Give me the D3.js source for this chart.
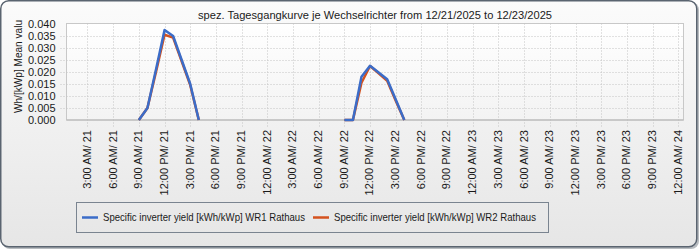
<!DOCTYPE html>
<html>
<head>
<meta charset="utf-8">
<script src="https://cdn.jsdelivr.net/npm/d3@7"></script>
<style>
  body { margin: 0; background: #fff; }
  text { font-family: "Liberation Sans", Arial, sans-serif; }
</style>
</head>
<body>
<svg id="chart" width="700" height="250"></svg>
<script>
// values (hourly, two days of production)
let times = [
    "2025-12-21 09:00", "2025-12-21 10:00", "2025-12-21 11:00", "2025-12-21 12:00",
    "2025-12-21 13:00", "2025-12-21 14:00", "2025-12-21 15:00", "2025-12-21 16:00",
    "2025-12-22 09:00", "2025-12-22 10:00", "2025-12-22 11:00", "2025-12-22 12:00",
    "2025-12-22 13:00", "2025-12-22 14:00", "2025-12-22 15:00", "2025-12-22 16:00"
]
let wr1 = [0, 0.005, 0.021, 0.0375, 0.035, 0.025, 0.015, 0,
           0, 0, 0.018, 0.0226, 0.0198, 0.017, 0.0085, 0]
let wr2 = [0, 0.005, 0.020, 0.0355, 0.0343, 0.0245, 0.0145, 0,
           0, 0, 0.0155, 0.0225, 0.0195, 0.0163, 0.008, 0]
let seriesNames = ["Specific inverter yield [kWh/kWp] WR1 Rathaus",
                   "Specific inverter yield [kWh/kWp] WR2 Rathaus"]
let yTicks = [0, 0.005, 0.010, 0.015, 0.020, 0.025, 0.030, 0.035, 0.040]
let xDomain = ["2025-12-21 00:00", "2025-12-24 00:00"]
let title = "spez. Tagesgangkurve je Wechselrichter from 12/21/2025 to 12/23/2025"
let yTitle = "Wh/[kWp] Mean valu"

let colors = ["#3b6cc8", "#d4521e"]

let parse = d3.timeParse("%Y-%m-%d %H:%M")
let svg = d3.select("#chart")

// panel background
let defs = svg.append("defs")
let grad = defs.append("linearGradient").attr("id", "bg").attr("x1", 0).attr("y1", 0).attr("x2", 0).attr("y2", 1)
grad.append("stop").attr("offset", "0%").attr("stop-color", "#fbfbfb")
grad.append("stop").attr("offset", "100%").attr("stop-color", "#e6e6e6")
let pgrad = defs.append("linearGradient").attr("id", "plotbg").attr("x1", 0).attr("y1", 0).attr("x2", 0).attr("y2", 1)
pgrad.append("stop").attr("offset", "0%").attr("stop-color", "#ffffff")
pgrad.append("stop").attr("offset", "100%").attr("stop-color", "#f3f3f3")

svg.append("rect").attr("x", 2).attr("y", 2).attr("width", 697).attr("height", 247)
    .attr("rx", 8).attr("fill", "#b8bcc0")
svg.append("rect").attr("x", 0.75).attr("y", 0.75).attr("width", 696).attr("height", 246)
    .attr("rx", 8).attr("fill", "url(#bg)").attr("stroke", "#5a6470").attr("stroke-width", 1.5)

// plot box
let plot = {left: 66.5, right: 683.5, top: 23.5, bottom: 120}

let x = d3.scaleTime().domain(xDomain.map(parse)).range([61.8, 678.3])
let y = d3.scaleLinear().domain([0, 0.04]).range([plot.bottom, plot.top + 0.5])

svg.append("rect").attr("x", plot.left).attr("y", plot.top)
    .attr("width", plot.right - plot.left).attr("height", plot.bottom - plot.top)
    .attr("fill", "url(#plotbg)").attr("stroke", "#c8c8c8")

let xTicks = d3.timeHour.every(3).range(parse("2025-12-21 03:00"), d3.timeMinute.offset(parse(xDomain[1]), 1))

// grid
svg.append("g").selectAll("line").data(xTicks).enter().append("line")
    .attr("x1", d => Math.round(x(d)) + 0.5).attr("x2", d => Math.round(x(d)) + 0.5)
    .attr("y1", plot.top).attr("y2", plot.bottom + 8)
    .attr("stroke", "#c4c4c4").attr("stroke-dasharray", "1,2")
svg.append("g").selectAll("line").data(yTicks.slice(1, -1)).enter().append("line")
    .attr("x1", plot.left - 6).attr("x2", plot.right)
    .attr("y1", d => Math.round(y(d)) + 0.5).attr("y2", d => Math.round(y(d)) + 0.5)
    .attr("stroke", "#c4c4c4").attr("stroke-dasharray", "1,2")
svg.append("line").attr("x1", plot.left).attr("x2", plot.right)
    .attr("y1", plot.bottom).attr("y2", plot.bottom).attr("stroke", "#b4b4b4")

// y axis labels
let yAxis = d3.axisLeft(y).tickValues(yTicks).tickSize(0).tickPadding(0).tickFormat(d3.format(".3f"))
let gy = svg.append("g").attr("transform", "translate(55.5,0)").call(yAxis)
gy.select(".domain").remove()
gy.selectAll("text").attr("font-family", "Liberation Sans, Arial, sans-serif")
    .attr("font-size", 11).attr("fill", "#1a1a1a")

// x axis labels, rotated
let fmt = d3.timeFormat("%-I:%M %p/ %d")
svg.append("g").selectAll("text").data(xTicks).enter().append("text")
    .attr("transform", d => "translate(" + (x(d) - 0.5) + ",130) rotate(-90)")
    .attr("text-anchor", "end").attr("dy", "0.35em")
    .attr("font-size", 11).attr("fill", "#1a1a1a")
    .text(d => fmt(d))

// lines
let line = d3.line().x(d => x(d.t)).y(d => y(d.v))
let drawSeries = (vals, color) => {
    let pts = times.map((t, i) => ({t: parse(t), v: vals[i]}))
    let days = d3.groups(pts, d => d3.timeDay.floor(d.t))
    days.forEach(([day, dpts]) => {
        svg.append("path").datum(dpts).attr("d", line)
            .attr("fill", "none").attr("stroke", color)
            .attr("stroke-width", 2.5).attr("stroke-linejoin", "round")
    })
}
drawSeries(wr2, colors[1])
drawSeries(wr1, colors[0])

// titles
svg.append("text").attr("x", (plot.left + plot.right) / 2).attr("y", 19)
    .attr("text-anchor", "middle").attr("font-size", 11).attr("fill", "#1a1a1a")
    .attr("textLength", 354).attr("lengthAdjust", "spacingAndGlyphs")
    .text(title)
svg.append("text").attr("transform", "translate(18,113) rotate(-90)")
    .attr("dy", "0.35em").attr("font-size", 11).attr("fill", "#1a1a1a")
    .attr("textLength", 93).attr("lengthAdjust", "spacingAndGlyphs")
    .text(yTitle)

// legend
let legend = svg.append("g")
legend.append("rect").attr("x", 76.5).attr("y", 202.5).attr("width", 472).attr("height", 30)
    .attr("fill", "none").attr("stroke", "#7a8490")
let legendX = [82, 313]
seriesNames.forEach((name, i) => {
    legend.append("line").attr("x1", legendX[i]).attr("x2", legendX[i] + 16)
        .attr("y1", 217.5).attr("y2", 217.5).attr("stroke", colors[i]).attr("stroke-width", 2.5)
    legend.append("text").attr("x", legendX[i] + 21).attr("y", 217.5).attr("dy", "0.35em")
        .attr("font-size", 11).attr("fill", "#1a1a1a")
        .attr("textLength", 202).attr("lengthAdjust", "spacingAndGlyphs")
        .text(name)
})
</script>
</body>
</html>
